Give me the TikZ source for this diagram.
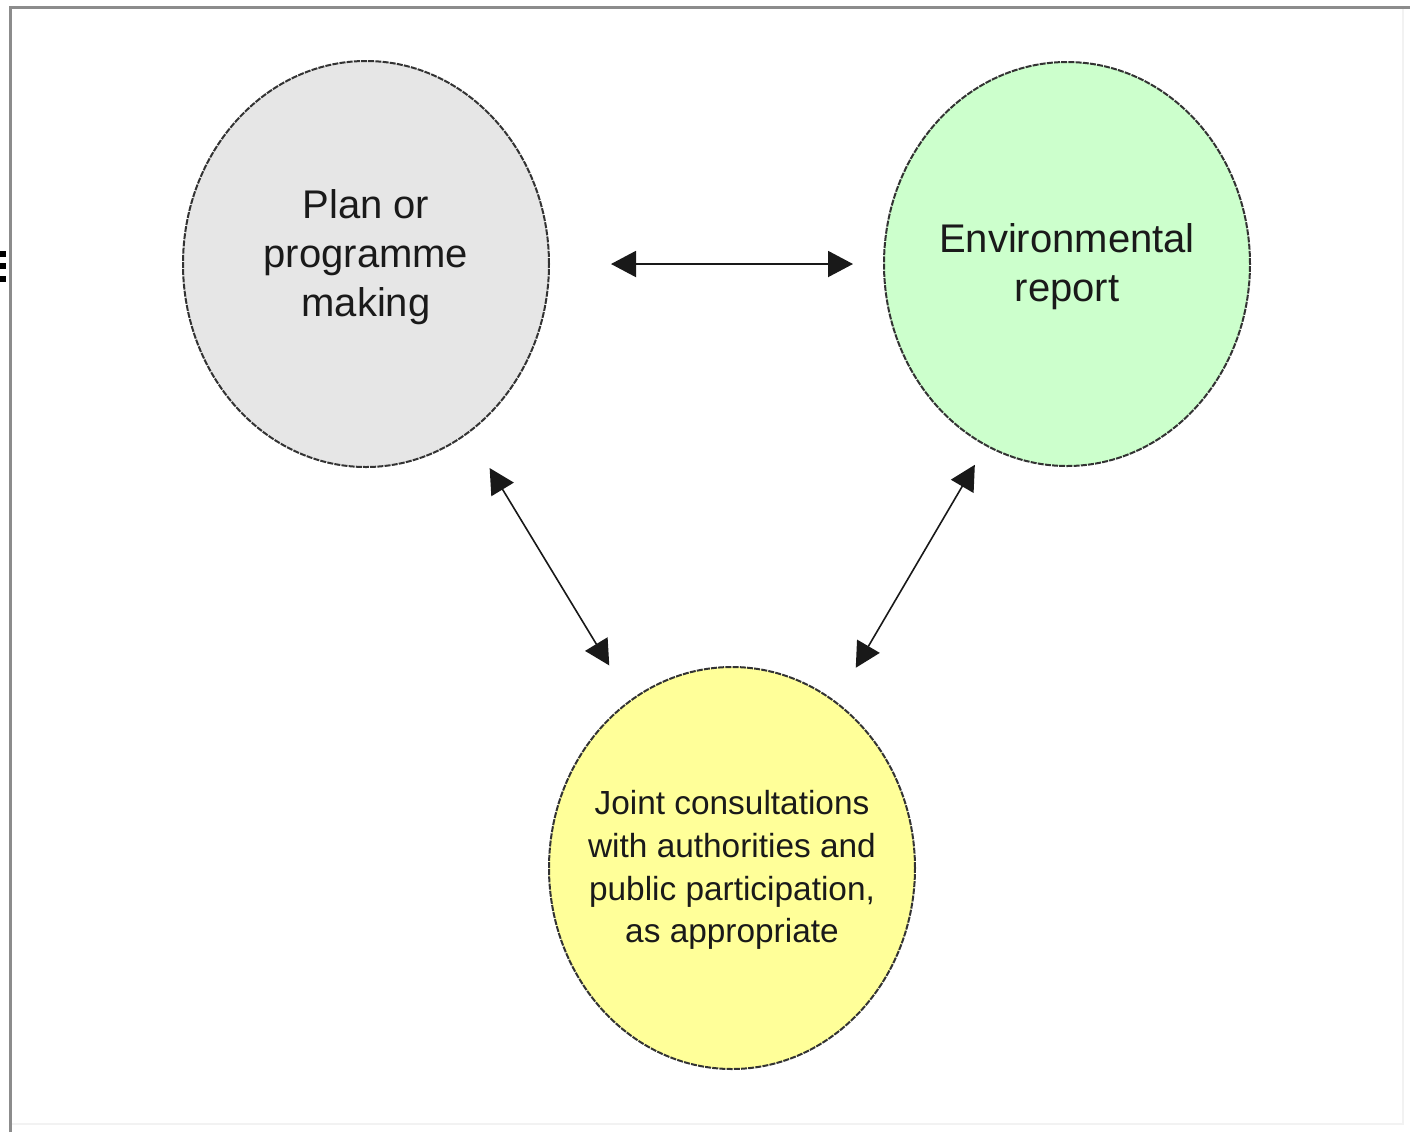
\documentclass[tikz,border=0pt]{standalone}
\usepackage{fontspec}
\setmainfont{Liberation Sans}
\usetikzlibrary{shapes.geometric,arrows.meta}
\definecolor{plangray}{HTML}{E6E6E6}
\definecolor{envgreen}{HTML}{CCFFCC}
\definecolor{consyellow}{HTML}{FFFF99}
\definecolor{framegray}{HTML}{8C8C8C}
\definecolor{framelight}{HTML}{F2F2F2}
\definecolor{inkdark}{HTML}{1A1A1A}
\begin{document}
\begin{tikzpicture}[x=0.5pt,y=-0.5pt,
  bubble/.style={ellipse, draw=black!80, line width=1pt, dash pattern=on 3pt off 0.6pt,
                 inner sep=0pt, outer sep=0pt, minimum width=183pt},
  bigtext/.style={align=center, font=\fontsize{20}{24.5}\selectfont, text=inkdark, inner sep=0pt},
  smalltext/.style={align=center, font=\fontsize{16.7}{21.35}\selectfont, text=inkdark, inner sep=0pt},
  tipkind/.style={{Triangle[length=12.5pt,width=13pt]}-{Triangle[length=12.5pt,width=13pt]}},
  link/.style={tipkind, line width=0.8pt, draw=black!90}
]
\useasboundingbox (0,0) rectangle (1410,1132);
\fill[white] (0,0) rectangle (1410,1132);

% frame
\draw[framelight, line width=1pt] (1403,7) -- (1403,1124) -- (10,1124);
\draw[framegray, line width=1.5pt] (10,1132) -- (10,7) -- (1410,7);

% cropped fragment at left edge
\fill[black] (0,251) rectangle (6,257);
\fill[black] (0,263) rectangle (6,269);
\fill[black] (0,276) rectangle (6,282);

% bubbles
\node[bubble, fill=plangray, minimum height=203pt] (plan) at (366,264) {};
\node[bubble, fill=envgreen, minimum height=202pt] (env) at (1067,264) {};
\node[bubble, fill=consyellow, minimum height=201pt] (consult) at (732,868) {};

% texts
\node[bigtext] (plantext) at (366,257) {Plan or\\programme\\making};
\node[bigtext] (envtext) at (1067,267) {Environmental\\report};
\node[smalltext] (consulttext) at (732,870) {Joint consultations\\with authorities and\\public participation,\\as appropriate};

% connectors
\draw[link, line width=1pt, shorten <=31pt, shorten >=15.5pt] (plan.0) -- (env.180);
\draw[link, shorten <=20.8pt, shorten >=20.6pt] (plan) -- (consult);
\draw[link, shorten <=11.3pt, shorten >=20pt] (env.246.8) -- (consult.58.5);
\end{tikzpicture}
\end{document}
